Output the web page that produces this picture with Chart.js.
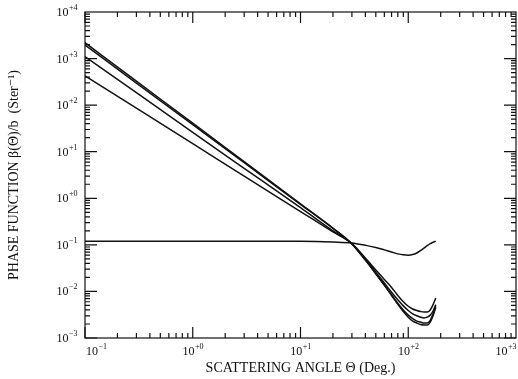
<!DOCTYPE html>
<html>
<head>
  <title>Phase Function</title>
  <script src="https://cdn.jsdelivr.net/npm/chart.js"></script>
  <style>
    body { margin: 0; background: #fff; }
    #wrap { width: 518px; height: 379px; }
  </style>
</head>
<body>
  <div id="wrap"><canvas id="phaseChart" width="518" height="379"></canvas></div>

  <script>
    // values (angle in degrees, phase function in 1/sr)
    const angles = [0.1, 0.3, 1, 3, 10, 20, 30, 40, 50, 60, 70, 80, 90, 100, 110, 120, 130, 140, 150, 160, 170, 180];
    const curveA = [2190, 327, 41, 6.1, 0.76, 0.23, 0.105, 0.047, 0.024, 0.0135, 0.0082, 0.0053, 0.0037, 0.0028, 0.0023, 0.0021, 0.00195, 0.0019, 0.0019, 0.0022, 0.003, 0.0045];
    const curveB = [1950, 298, 38, 5.8, 0.74, 0.225, 0.104, 0.047, 0.024, 0.0138, 0.0085, 0.0056, 0.004, 0.0031, 0.0026, 0.0023, 0.0022, 0.0021, 0.0021, 0.0024, 0.0033, 0.0048];
    const curveC = [1100, 185, 26, 4.4, 0.63, 0.2, 0.106, 0.049, 0.026, 0.0152, 0.0096, 0.0066, 0.0049, 0.0039, 0.0033, 0.003, 0.0028, 0.0027, 0.0028, 0.0031, 0.0038, 0.0052];
    const curveD = [424, 86, 14.9, 3.0, 0.52, 0.19, 0.107, 0.052, 0.029, 0.018, 0.0122, 0.0082, 0.006, 0.0048, 0.0042, 0.0039, 0.0037, 0.0036, 0.0036, 0.004, 0.0052, 0.0072];

    const molAngles = [0.1, 1, 10, 20, 30, 40, 50, 60, 70, 80, 90, 100, 110, 120, 130, 140, 150, 160, 170, 180];
    const molecular = [0.12, 0.12, 0.119, 0.115, 0.11, 0.098, 0.088, 0.078, 0.07, 0.064, 0.061, 0.06, 0.062, 0.067, 0.075, 0.085, 0.096, 0.106, 0.114, 0.12];

    // tick labels are "10" with these exponents
    const xExps = [-1, 0, 1, 2, 3];
    const xTickExps = ["\u22121", "+0", "+1", "+2", "+3"];
    const yExps = [-3, -2, -1, 0, 1, 2, 3, 4];
    const yTickExps = ["\u22123", "\u22122", "\u22121", "+0", "+1", "+2", "+3", "+4"];

    const serif = "'Liberation Serif', 'DejaVu Serif', serif";

    const toPoints = (xs, ys) => xs.map((x, i) => ({ x: x, y: ys[i] }));
    const line = data => ({
      data: data,
      borderColor: "#111",
      borderWidth: 1.5,
      pointRadius: 0,
      fill: false,
      cubicInterpolationMode: "monotone"
    });

    // "10" with a raised exponent; align is where x sits: left, center or right
    function drawPow(ctx, exp, x, y, align) {
      ctx.font = "12px " + serif;
      const wb = ctx.measureText("10").width;
      ctx.font = "8px " + serif;
      const we = ctx.measureText(exp).width;
      const w = wb + we;
      let x0 = x;
      if (align === "center") x0 = x - w / 2;
      if (align === "right") x0 = x - w;
      ctx.font = "12px " + serif;
      ctx.fillText("10", x0, y);
      ctx.font = "8px " + serif;
      ctx.fillText(exp, x0 + wb + 0.5, y - 6);
    }

    // frame, inward ticks on all four sides, and tick labels
    const frame = {
      id: "frame",
      afterDraw(chart) {
        const { ctx, chartArea: a, scales } = chart;
        ctx.save();
        ctx.strokeStyle = "#111";
        ctx.lineWidth = 1.2;
        ctx.strokeRect(a.left, a.top, a.right - a.left, a.bottom - a.top);
        ctx.beginPath();
        for (let e = xExps[0]; e < xExps[xExps.length - 1]; e++) {
          for (let m = 1; m <= 9; m++) {
            const px = scales.x.getPixelForValue(m * Math.pow(10, e));
            const len = m === 1 ? 11 : 5;
            ctx.moveTo(px, a.bottom); ctx.lineTo(px, a.bottom - len);
            ctx.moveTo(px, a.top); ctx.lineTo(px, a.top + len);
          }
        }
        for (let e = yExps[0]; e < yExps[yExps.length - 1]; e++) {
          for (let m = 1; m <= 9; m++) {
            const py = scales.y.getPixelForValue(m * Math.pow(10, e));
            const len = m === 1 ? 12 : 5;
            ctx.moveTo(a.left, py); ctx.lineTo(a.left + len, py);
            ctx.moveTo(a.right, py); ctx.lineTo(a.right - len, py);
          }
        }
        ctx.stroke();

        ctx.fillStyle = "#111";
        ctx.textAlign = "left";
        ctx.textBaseline = "alphabetic";
        xExps.forEach((e, i) => {
          const px = scales.x.getPixelForValue(Math.pow(10, e));
          let align = "center";
          if (i === 0) align = "left";
          if (i === xExps.length - 1) align = "right";
          drawPow(ctx, xTickExps[i], align === "left" ? px + 1 : px, a.bottom + 17, align);
        });
        yExps.forEach((e, i) => {
          const py = scales.y.getPixelForValue(Math.pow(10, e));
          drawPow(ctx, yTickExps[i], a.left - 8, py + 4, "right");
        });
        ctx.restore();
      }
    };

    const titleFont = { family: serif, size: 14 };

    new Chart(document.getElementById("phaseChart"), {
      type: "line",
      data: {
        datasets: [
          line(toPoints(angles, curveA)),
          line(toPoints(angles, curveB)),
          line(toPoints(angles, curveC)),
          line(toPoints(angles, curveD)),
          line(toPoints(molAngles, molecular))
        ]
      },
      options: {
        responsive: false,
        animation: false,
        layout: { padding: { top: 12, right: 2 } },
        plugins: { legend: { display: false }, tooltip: { enabled: false } },
        scales: {
          x: {
            type: "logarithmic",
            min: 0.1,
            max: 1000,
            grid: { display: false, drawTicks: false },
            border: { display: false },
            ticks: { display: false },
            afterFit: s => { s.height = 41; },
            title: {
              display: true,
              text: "SCATTERING ANGLE \u0398 (Deg.)",
              color: "#111",
              font: titleFont,
              padding: { top: 0, bottom: 2 }
            }
          },
          y: {
            type: "logarithmic",
            min: 0.001,
            max: 10000,
            grid: { display: false, drawTicks: false },
            border: { display: false },
            ticks: { display: false },
            afterFit: s => { s.width = 85; },
            title: {
              display: true,
              text: "PHASE FUNCTION \u03B2(\u0398)/b  (Ster\u207B\u00B9)",
              color: "#111",
              font: titleFont,
              padding: { top: 6, bottom: 0 }
            }
          }
        }
      },
      plugins: [frame]
    });
  </script>
</body>
</html>
